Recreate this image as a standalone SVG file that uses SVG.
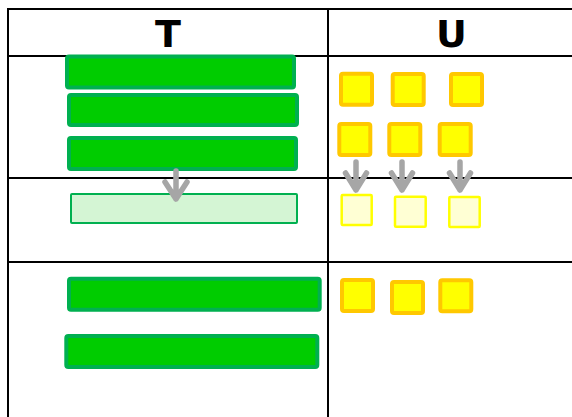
<svg xmlns="http://www.w3.org/2000/svg" width="572" height="417" viewBox="0 0 572 417">
  <style>
    .grid { stroke: #000; stroke-width: 2; fill: none; }
    .head { font-family: "DejaVu Sans", sans-serif; font-weight: bold; font-size: 38px; fill: #000; text-anchor: middle; }
    .bar { fill: #00cc00; stroke: #00b050; stroke-width: 4; }
    .bar-ghost { fill: #d4f5d4; stroke: #00b050; stroke-width: 2; }
    .sq { fill: #ffff00; stroke: #ffc800; stroke-width: 4; }
    .sq-ghost { fill: #ffffd4; stroke: #ffff00; stroke-width: 2.5; }
    .arrow { fill: none; stroke: #a6a6a6; stroke-width: 5.5; stroke-linecap: round; stroke-linejoin: round; }
  </style>
  <rect width="572" height="417" fill="#fff"/>

  <!-- table grid -->
  <g id="table">
    <line class="grid" x1="7" y1="9" x2="572" y2="9"/>
    <line class="grid" x1="8" y1="56" x2="572" y2="56"/>
    <line class="grid" x1="8" y1="178" x2="572" y2="178"/>
    <line class="grid" x1="8" y1="262" x2="572" y2="262"/>
    <line class="grid" x1="8" y1="8" x2="8" y2="417"/>
    <line class="grid" x1="328" y1="9" x2="328" y2="417"/>
    <text class="head" x="168" y="47">T</text>
    <text class="head" x="451.5" y="47">U</text>
  </g>

  <!-- column T -->
  <g id="t-bar-1"><rect class="bar" x="67" y="56.5" width="227" height="31" rx="2"/></g>
  <g id="t-bar-2"><rect class="bar" x="69" y="95" width="228" height="30" rx="2"/></g>
  <g id="t-bar-3"><rect class="bar" x="69" y="138" width="227" height="31" rx="2"/></g>
  <g id="t-bar-ghost"><rect class="bar-ghost" x="71" y="194" width="226" height="29" rx="1"/></g>
  <g id="t-bar-4"><rect class="bar" x="69" y="278.7" width="250.7" height="31" rx="2"/></g>
  <g id="t-bar-5"><rect class="bar" x="66.3" y="336" width="251" height="31" rx="2"/></g>

  <!-- column U -->
  <g id="u-sq-1"><rect class="sq" x="341" y="73.7" width="31" height="31" rx="2"/></g>
  <g id="u-sq-2"><rect class="sq" x="392.7" y="74" width="31" height="31" rx="2"/></g>
  <g id="u-sq-3"><rect class="sq" x="451" y="74" width="31" height="31" rx="2"/></g>
  <g id="u-sq-4"><rect class="sq" x="339.3" y="124" width="31" height="31" rx="2"/></g>
  <g id="u-sq-5"><rect class="sq" x="389.3" y="124" width="31" height="31" rx="2"/></g>
  <g id="u-sq-6"><rect class="sq" x="439.7" y="124" width="31" height="31" rx="2"/></g>
  <g id="u-ghost-1"><rect class="sq-ghost" x="341.7" y="195" width="30" height="30" rx="1"/></g>
  <g id="u-ghost-2"><rect class="sq-ghost" x="395" y="196.7" width="30.7" height="30" rx="1"/></g>
  <g id="u-ghost-3"><rect class="sq-ghost" x="449.3" y="197" width="30.4" height="30" rx="1"/></g>
  <g id="u-sq-7"><rect class="sq" x="342" y="280" width="31" height="31" rx="2"/></g>
  <g id="u-sq-8"><rect class="sq" x="392" y="282" width="31" height="31" rx="2"/></g>
  <g id="u-sq-9"><rect class="sq" x="440.3" y="280.3" width="31" height="31" rx="2"/></g>

  <!-- connectors -->
  <g id="connectors">
    <path class="arrow" d="M176 171 V199 M165 182 L176 199 L187 182"/>
    <path class="arrow" d="M356 162 V190 M345.5 173 L356 190 L366.5 173"/>
    <path class="arrow" d="M402 162 V190 M391.5 173 L402 190 L412.5 173"/>
    <path class="arrow" d="M460 162 V190 M449.5 173 L460 190 L470.5 173"/>
  </g>
</svg>
